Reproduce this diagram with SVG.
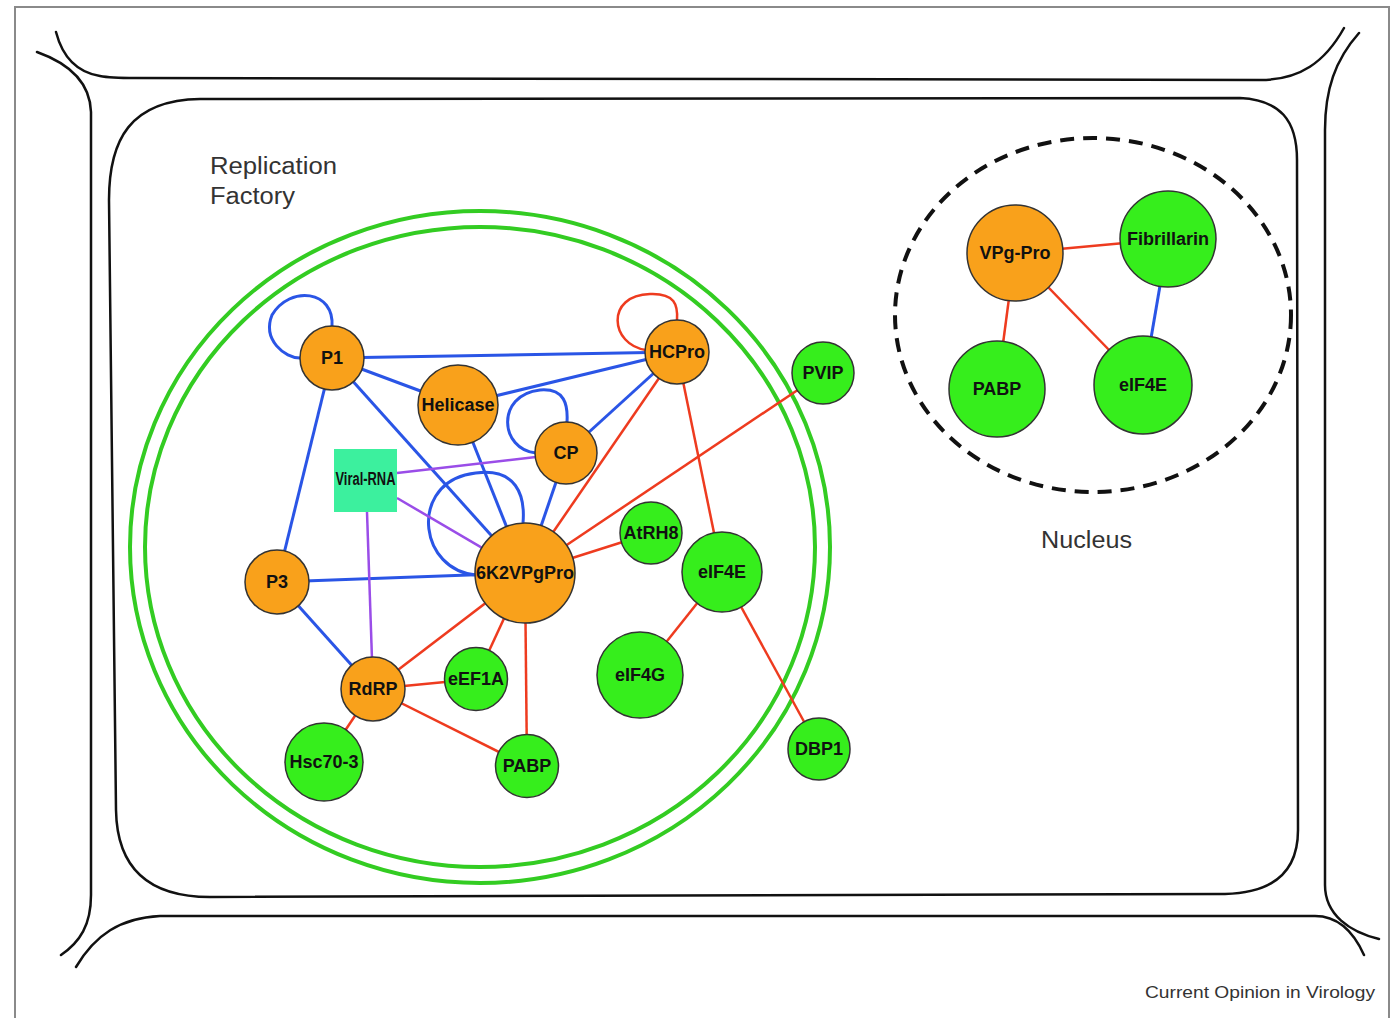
<svg xmlns="http://www.w3.org/2000/svg" width="1393" height="1018" viewBox="0 0 1393 1018">
<style>
.wall{fill:none;stroke:#111;stroke-width:2.5;stroke-linecap:round}
.lbl{font-family:"Liberation Sans",Arial,sans-serif;fill:#333}
.o{fill:#f9a11b;stroke:#333;stroke-width:1.5}
.g{fill:#36ee1c;stroke:#333;stroke-width:1.5}
.t{font-family:"Liberation Sans",Arial,sans-serif;font-weight:bold;font-size:18px;text-anchor:middle;fill:#111}
.b{fill:none;stroke:#2a55e6;stroke-width:3}
.r{fill:none;stroke:#ee3b1f;stroke-width:2.5}
.p{fill:none;stroke:#9a4de8;stroke-width:2.5}
</style>
<rect x="0" y="0" width="1393" height="1018" fill="#fff"/>
<rect x="15" y="7" width="1374" height="1040" fill="none" stroke="#8a8a8a" stroke-width="2"/>
<g id="cell">
<path class="wall" d="M56 32 C62 55 75 72 100 76 C110 78 120 78 135 78 L1260 80 C1300 80 1325 62 1344 28"/>
<path class="wall" d="M37 52 C65 62 90 80 91 112 L91 895 C91 925 80 942 61 955"/>
<path class="wall" d="M76 967 C95 935 120 918 160 916 L1315 916 C1340 916 1355 935 1364 955"/>
<path class="wall" d="M1359 33 C1335 60 1325 90 1325 130 L1325 885 C1325 915 1350 932 1379 939"/>
<path class="wall" d="M200 99 L1240 98 C1280 100 1297 120 1297 160 L1298 830 C1298 875 1270 893 1225 894 L210 897 C150 897 117 870 116 810 L109 200 C109 140 130 100 200 99 Z"/>
</g>
<g id="replication-factory">
<ellipse cx="480" cy="547" rx="350" ry="336" fill="none" stroke="#33cc22" stroke-width="4"/>
<ellipse cx="480" cy="547" rx="335" ry="320" fill="none" stroke="#33cc22" stroke-width="4"/>
</g>
<g id="nucleus">
<ellipse cx="1093" cy="315" rx="198" ry="177" fill="none" stroke="#111" stroke-width="4" stroke-dasharray="14 9"/>
</g>
<text class="lbl" x="210" y="174" font-size="23" textLength="127" lengthAdjust="spacingAndGlyphs">Replication</text>
<text class="lbl" x="210" y="204" font-size="23" textLength="85" lengthAdjust="spacingAndGlyphs">Factory</text>
<text class="lbl" x="1041" y="548" font-size="23" textLength="91" lengthAdjust="spacingAndGlyphs">Nucleus</text>
<text class="lbl" x="1145" y="998" font-size="17" textLength="230" lengthAdjust="spacingAndGlyphs">Current Opinion in Virology</text>
<g id="connectors">
<path class="b" d="M332 327 C335 290 290 285 272 315 C262 340 285 358 300 358"/>
<path class="b" d="M536 453 C500 450 495 395 540 390 C565 388 568 405 567 422"/>
<path class="b" d="M476 575 C420 570 410 490 465 475 C520 462 525 500 523 523"/>
<path class="r" d="M646 350 C610 345 605 295 650 294 C675 293 678 305 677 320"/>
<line class="b" x1="332" y1="358" x2="677" y2="352"/>
<line class="b" x1="332" y1="358" x2="458" y2="405"/>
<line class="b" x1="332" y1="358" x2="525" y2="573"/>
<line class="b" x1="332" y1="358" x2="277" y2="582"/>
<line class="b" x1="458" y1="405" x2="677" y2="352"/>
<line class="b" x1="458" y1="405" x2="525" y2="573"/>
<line class="b" x1="566" y1="453" x2="677" y2="352"/>
<line class="b" x1="566" y1="453" x2="525" y2="573"/>
<line class="b" x1="277" y1="582" x2="525" y2="573"/>
<line class="b" x1="277" y1="582" x2="373" y2="689"/>
<line class="p" x1="397" y1="473" x2="536" y2="457"/>
<line class="p" x1="397" y1="498" x2="525" y2="573"/>
<line class="p" x1="367" y1="512" x2="373" y2="689"/>
<line class="r" x1="677" y1="352" x2="525" y2="573"/>
<line class="r" x1="677" y1="352" x2="722" y2="572"/>
<line class="r" x1="823" y1="373" x2="525" y2="573"/>
<line class="r" x1="651" y1="533" x2="525" y2="573"/>
<line class="r" x1="525" y1="573" x2="373" y2="689"/>
<line class="r" x1="525" y1="573" x2="476" y2="679"/>
<line class="r" x1="525" y1="573" x2="527" y2="766"/>
<line class="r" x1="373" y1="689" x2="476" y2="679"/>
<line class="r" x1="373" y1="689" x2="527" y2="766"/>
<line class="r" x1="373" y1="689" x2="324" y2="762"/>
<line class="r" x1="722" y1="572" x2="640" y2="675"/>
<line class="r" x1="722" y1="572" x2="819" y2="749"/>
<line class="r" x1="1015" y1="253" x2="1168" y2="239"/>
<line class="r" x1="1015" y1="253" x2="997" y2="389"/>
<line class="r" x1="1015" y1="253" x2="1143" y2="385"/>
<line class="b" x1="1168" y1="239" x2="1143" y2="385"/>
</g>
<g id="node-P1"><circle class="o" cx="332" cy="358" r="32"/><text class="t" x="332" y="364">P1</text></g>
<g id="node-Helicase"><circle class="o" cx="458" cy="405" r="40"/><text class="t" x="458" y="411" font-size="17">Helicase</text></g>
<g id="node-HCPro"><circle class="o" cx="677" cy="352" r="32"/><text class="t" x="677" y="358">HCPro</text></g>
<g id="node-CP"><circle class="o" cx="566" cy="453" r="31"/><text class="t" x="566" y="459">CP</text></g>
<g id="node-Viral-RNA"><rect x="334" y="449" width="63" height="63" fill="#3cf09e"/><text class="t" x="365.5" y="485" font-size="11" fill="#0d3a1c" textLength="60" lengthAdjust="spacingAndGlyphs">Viral-RNA</text></g>
<g id="node-6K2VPgPro"><circle class="o" cx="525" cy="573" r="50"/><text class="t" x="525" y="579" font-size="17">6K2VPgPro</text></g>
<g id="node-P3"><circle class="o" cx="277" cy="582" r="32"/><text class="t" x="277" y="588">P3</text></g>
<g id="node-RdRP"><circle class="o" cx="373" cy="689" r="32"/><text class="t" x="373" y="695">RdRP</text></g>
<g id="node-AtRH8"><circle class="g" cx="651" cy="533" r="31"/><text class="t" x="651" y="539" font-size="17">AtRH8</text></g>
<g id="node-eIF4E"><circle class="g" cx="722" cy="572" r="40"/><text class="t" x="722" y="578" font-size="17">eIF4E</text></g>
<g id="node-PVIP"><circle class="g" cx="823" cy="373" r="31"/><text class="t" x="823" y="379">PVIP</text></g>
<g id="node-eIF4G"><circle class="g" cx="640" cy="675" r="43"/><text class="t" x="640" y="681" font-size="17">eIF4G</text></g>
<g id="node-DBP1"><circle class="g" cx="819" cy="749" r="31"/><text class="t" x="819" y="755" font-size="17">DBP1</text></g>
<g id="node-eEF1A"><circle class="g" cx="476" cy="679" r="31.5"/><text class="t" x="476" y="685">eEF1A</text></g>
<g id="node-Hsc70-3"><circle class="g" cx="324" cy="762" r="39"/><text class="t" x="324" y="768">Hsc70-3</text></g>
<g id="node-PABP"><circle class="g" cx="527" cy="766" r="31.5"/><text class="t" x="527" y="772">PABP</text></g>
<g id="node-VPg-Pro"><circle class="o" cx="1015" cy="253" r="48"/><text class="t" x="1015" y="259">VPg-Pro</text></g>
<g id="node-Fibrillarin"><circle class="g" cx="1168" cy="239" r="48"/><text class="t" x="1168" y="245" font-size="17">Fibrillarin</text></g>
<g id="node-PABP-nucleus"><circle class="g" cx="997" cy="389" r="48"/><text class="t" x="997" y="395">PABP</text></g>
<g id="node-eIF4E-nucleus"><circle class="g" cx="1143" cy="385" r="49"/><text class="t" x="1143" y="391">eIF4E</text></g>
</svg>
